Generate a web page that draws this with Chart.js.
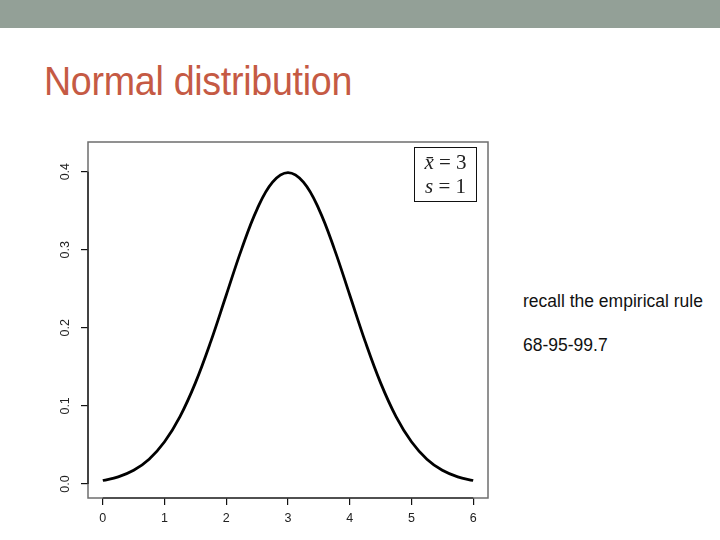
<!DOCTYPE html>
<html>
<head>
<meta charset="utf-8">
<script src="https://cdn.jsdelivr.net/npm/chart.js@4.4.1/dist/chart.umd.min.js"></script>
<style>
  body { margin: 0; width: 720px; height: 540px; background: #fff; position: relative; overflow: hidden; font-family: "Liberation Sans", Arial, sans-serif; }
  #band { position: absolute; left: 0; top: 0; width: 720px; height: 28px; background: #93a097; }
  #title { position: absolute; left: 44px; top: 59px; font-family: "Liberation Sans", Arial, sans-serif; font-size: 40px; color: #c55a44; white-space: nowrap; transform: scaleX(0.94); transform-origin: left top; letter-spacing: -0.3px; }
  #wrap { position: absolute; left: 40px; top: 130px; width: 460px; height: 400px; }
  #legend { position: absolute; left: 414px; top: 147px; width: 61px; height: 51px; border: 1px solid #111; font-family: "Liberation Serif", "DejaVu Serif", serif; font-size: 21px; line-height: 24px; color: #222; text-align: center; padding-top: 2px; box-sizing: content-box; white-space: nowrap; }
  #legend i { font-style: italic; }
  .side { position: absolute; left: 523px; font-size: 17.5px; color: #111; white-space: nowrap; }
</style>
</head>
<body>
<div id="band"></div>
<div id="title">Normal distribution</div>
<div id="wrap"><canvas id="myChart" width="460" height="400"></canvas></div>
<div id="legend"><i>x̄</i> = 3<br><i>s</i> = 1</div>
<div class="side" style="top:291px">recall the empirical rule</div>
<div class="side" style="top:335px">68-95-99.7</div>
<script>
// values (x from 0 to 6)
var xValues = [0, 0.25, 0.5, 0.75, 1, 1.25, 1.5, 1.75, 2, 2.25, 2.5, 2.75, 3,
               3.25, 3.5, 3.75, 4, 4.25, 4.5, 4.75, 5, 5.25, 5.5, 5.75, 6];
var density = [0.0044, 0.0091, 0.0175, 0.0317, 0.0540, 0.0863, 0.1295, 0.1826, 0.2420, 0.3011, 0.3521, 0.3867, 0.3989,
               0.3867, 0.3521, 0.3011, 0.2420, 0.1826, 0.1295, 0.0863, 0.0540, 0.0317, 0.0175, 0.0091, 0.0044];
var xTicks = [0, 1, 2, 3, 4, 5, 6];
var yTicks = [0, 0.1, 0.2, 0.3, 0.4];
var yTickLabels = ['0.0', '0.1', '0.2', '0.3', '0.4'];

var points = xValues.map(function (x, i) { return {x: x, y: density[i]}; });

// R style frame, axis lines and rotated y labels
var rFrame = {
    id: 'rFrame',
    afterDraw: function (chart) {
        var c = chart.ctx, a = chart.chartArea;
        var xs = chart.scales.x, ys = chart.scales.y;
        c.save();
        c.strokeStyle = '#6e6e6e';
        c.lineWidth = 1.5;
        c.strokeRect(a.left, a.top, a.right - a.left, a.bottom - a.top);
        c.strokeStyle = '#111';
        c.lineWidth = 1.2;
        c.beginPath();
        c.moveTo(xs.getPixelForValue(xTicks[0]), a.bottom);
        c.lineTo(xs.getPixelForValue(xTicks[xTicks.length - 1]), a.bottom);
        c.moveTo(a.left, ys.getPixelForValue(yTicks[0]));
        c.lineTo(a.left, ys.getPixelForValue(yTicks[yTicks.length - 1]));
        c.stroke();
        c.fillStyle = '#222';
        c.font = '12.5px "Liberation Sans", Arial, sans-serif';
        c.textAlign = 'center';
        c.textBaseline = 'middle';
        yTicks.forEach(function (v, i) {
            c.save();
            c.translate(a.left - 22, ys.getPixelForValue(v));
            c.rotate(-Math.PI / 2);
            c.fillText(yTickLabels[i], 0, 0);
            c.restore();
        });
        c.restore();
    }
};

var ctx = document.getElementById('myChart').getContext('2d');
var myChart = new Chart(ctx, {
    type: 'line',
    data: {
        datasets: [{
            data: points,
            borderColor: '#000',
            borderWidth: 2.8,
            pointRadius: 0,
            tension: 0.4,
            fill: false
        }]
    },
    options: {
        responsive: false,
        animation: false,
        devicePixelRatio: 1,
        layout: {padding: {top: 12, right: 12, left: 0, bottom: 0}},
        plugins: {legend: {display: false}, tooltip: {enabled: false}},
        scales: {
            x: {
                type: 'linear',
                min: -0.24,
                max: 6.24,
                afterBuildTicks: function (s) { s.ticks = xTicks.map(function (v) { return {value: v}; }); },
                afterFit: function (s) { s.height = 32; },
                border: {display: false},
                grid: {drawOnChartArea: false, drawTicks: true, tickLength: 7, color: '#111', lineWidth: 1.2},
                ticks: {color: '#222', font: {size: 12.5, family: '"Liberation Sans", Arial, sans-serif'}, padding: 6, maxRotation: 0}
            },
            y: {
                type: 'linear',
                min: -0.018,
                max: 0.438,
                afterBuildTicks: function (s) { s.ticks = yTicks.map(function (v) { return {value: v}; }); },
                afterFit: function (s) { s.width = 48; },
                border: {display: false},
                grid: {drawOnChartArea: false, drawTicks: true, tickLength: 7, color: '#111', lineWidth: 1.2},
                ticks: {display: false}
            }
        }
    },
    plugins: [rFrame]
});
</script>
</body>
</html>
